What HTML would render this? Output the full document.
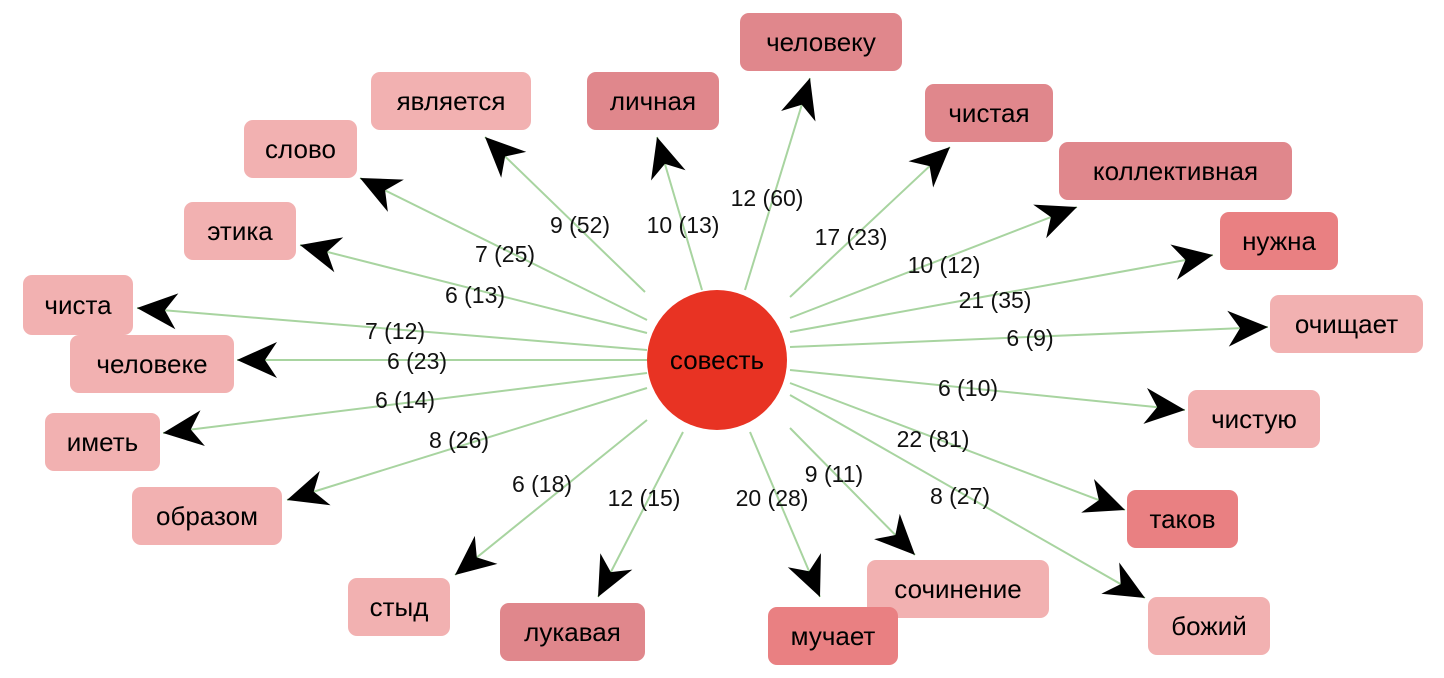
<!DOCTYPE html>
<html><head><meta charset="utf-8">
<style>
html,body{margin:0;padding:0;background:#fff;width:1444px;height:678px;overflow:hidden}
svg text{font-family:"Liberation Sans",sans-serif}
</style></head><body>
<svg id="s" width="1444" height="678" xmlns="http://www.w3.org/2000/svg"></svg>
<script>
const s=document.getElementById('s');
const L='#f2b1b1',D='#e0878c',R='#e98082';
const nodes=[
['является',371,72,160,58,L,[485,137],[645,292]],
['личная',587,72,132,58,D,[657,137],[702,290]],
['человеку',740,13,162,58,D,[810,78],[745,290]],
['чистая',925,84,128,58,D,[950,147],[790,297]],
['коллективная',1059,142,233,58,D,[1077,207],[790,318]],
['нужна',1220,212,118,58,R,[1213,255],[790,332]],
['очищает',1270,295,153,58,L,[1268,327],[790,347]],
['чистую',1188,390,132,58,L,[1185,410],[790,370]],
['таков',1127,490,111,58,R,[1125,510],[790,383]],
['божий',1148,597,122,58,L,[1145,598],[790,395]],
['сочинение',867,560,182,58,L,[915,555],[790,428]],
['мучает',768,607,130,58,R,[820,597],[750,432]],
['лукавая',500,603,145,58,D,[598,597],[683,432]],
['стыд',348,578,102,58,L,[455,575],[647,420]],
['образом',132,487,150,58,L,[287,500],[647,388]],
['иметь',45,413,115,58,L,[163,433],[647,373]],
['человеке',70,335,164,58,L,[237,360],[647,360]],
['чиста',23,275,110,60,L,[137,308],[647,350]],
['этика',184,202,112,58,L,[300,245],[647,333]],
['слово',244,120,113,58,L,[360,178],[647,320]]
];
const labels=[['9 (52)',580,225],['10 (13)',683,225],['12 (60)',767,198],['17 (23)',851,237],['10 (12)',944,265],['21 (35)',995,300],['6 (9)',1030,338],['6 (10)',968,388],['22 (81)',933,439],['8 (27)',960,496],['9 (11)',834,474],['20 (28)',772,498],['12 (15)',644,498],['6 (18)',542,484],['8 (26)',459,440],['6 (14)',405,400],['6 (23)',417,361],['7 (12)',395,331],['6 (13)',475,295],['7 (25)',505,254]];
let h='';
for(const n of nodes){const [t,x,y,w,hh,c,tip,st]=n;
 h+=`<line x1="${st[0]}" y1="${st[1]}" x2="${tip[0]}" y2="${tip[1]}" stroke="#a8d4a0" stroke-width="2"/>`;}
h+=`<circle cx="717" cy="360" r="70" fill="#e83323"/>`;
h+=`<text x="717" y="369" font-size="26" text-anchor="middle" fill="#000">совесть</text>`;
for(const n of nodes){const [t,x,y,w,hh,c,tip,st]=n;
 h+=`<rect x="${x}" y="${y}" width="${w}" height="${hh}" rx="9" fill="${c}"/>`;
 h+=`<text x="${x+w/2}" y="${y+hh/2+9}" font-size="26" text-anchor="middle" fill="#000">${t}</text>`;
 const dx=tip[0]-st[0],dy=tip[1]-st[1],len=Math.hypot(dx,dy),ux=dx/len,uy=dy/len,px=-uy,py=ux;
 const Lh=40,W=18,N=12;
 const bx=tip[0]-ux*Lh,by=tip[1]-uy*Lh,nx=tip[0]-ux*(Lh-N),ny=tip[1]-uy*(Lh-N);
 h+=`<polygon points="${tip[0]},${tip[1]} ${bx+px*W},${by+py*W} ${nx},${ny} ${bx-px*W},${by-py*W}" fill="#000"/>`;}
for(const l of labels)h+=`<text x="${l[1]}" y="${l[2]+8}" font-size="23" text-anchor="middle" fill="#111">${l[0]}</text>`;
s.innerHTML=h;
</script>
</body></html>
